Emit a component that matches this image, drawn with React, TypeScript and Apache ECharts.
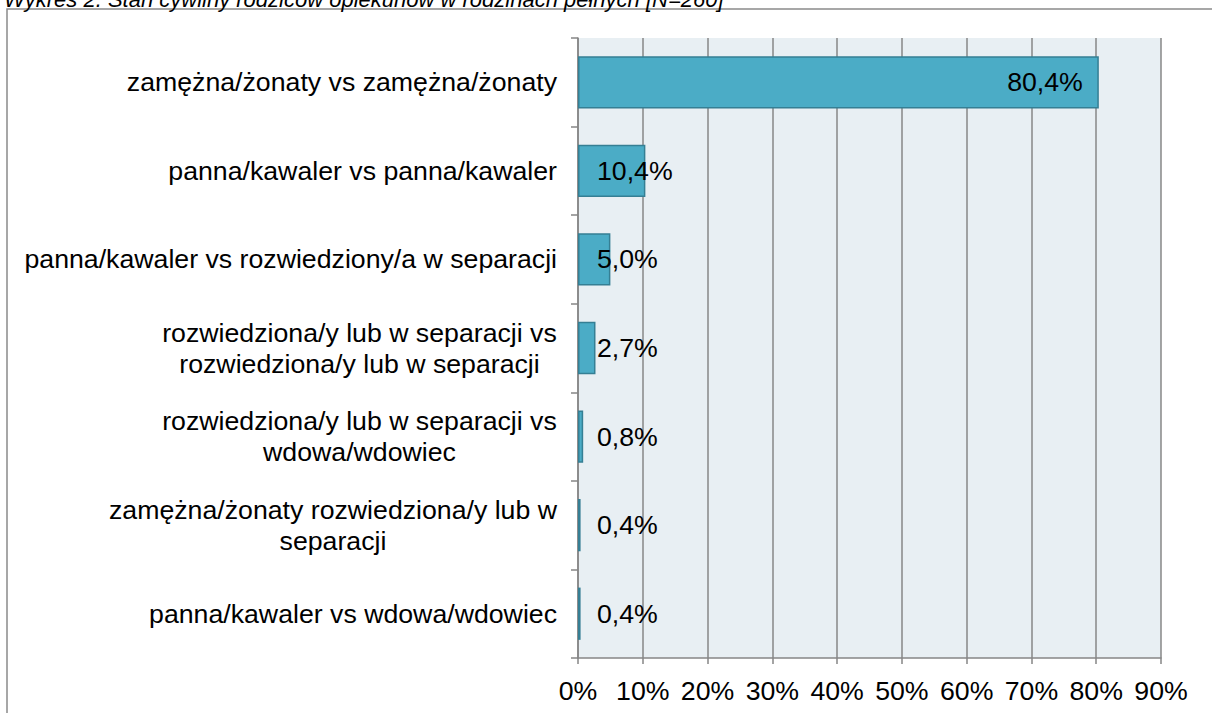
import React, { useEffect, useRef } from "react";
import * as echarts from "echarts";

const categories = [
  "zamężna/żonaty vs zamężna/żonaty",
  "panna/kawaler vs panna/kawaler",
  "panna/kawaler vs rozwiedziony/a w separacji",
  "rozwiedziona/y lub w separacji vs\nrozwiedziona/y lub w separacji",
  "rozwiedziona/y lub w separacji vs\nwdowa/wdowiec",
  "zamężna/żonaty rozwiedziona/y lub w\nseparacji",
  "panna/kawaler vs wdowa/wdowiec",
];
const values = [80.4, 10.4, 5.0, 2.7, 0.8, 0.4, 0.4];
const xMin = 0;
const xMax = 90;
const xInterval = 10;
const titleText = "Wykres 2. Stan cywilny rodziców opiekunów w rodzinach pełnych [N=260]";

const FONT = "'Liberation Sans', Arial, sans-serif";
const FS = 26.7;
const LH = 31;

function measure(text: string): number {
  const c = document.createElement("canvas").getContext("2d");
  if (!c) return text.length * FS * 0.5;
  c.font = `${FS}px 'Liberation Sans'`;
  return c.measureText(text).width;
}

export default function App() {
  const ref = useRef<HTMLDivElement>(null);
  useEffect(() => {
    document.body.style.margin = "0";
    if (!ref.current) return;
    const chart = echarts.init(ref.current, undefined, { renderer: "svg" });
    const rich: Record<string, any> = {};
    const labelMap: Record<string, string> = {};
    categories.forEach((cat, i) => {
      if (cat.includes("\n")) {
        const lines = cat.split("\n");
        const w = Math.ceil(Math.max(...lines.map(measure)));
        const key = "c" + i;
        rich[key] = { width: w, align: "center", fontSize: FS, fontFamily: FONT, color: "#000", lineHeight: LH };
        labelMap[cat] = lines.map((l) => `{${key}|${l}}`).join("\n");
      }
    });
    chart.setOption({
      animation: false,
      backgroundColor: "#fff",
      graphic: [
        {
          type: "rect",
          shape: { x: 7, y: 9, width: 1400, height: 900 },
          style: { fill: "none", stroke: "#8a8a8a", lineWidth: 1.5 },
          silent: true,
        },
        {
          type: "text",
          x: 4,
          y: 10,
          style: {
            text: titleText,
            font: `italic 22px ${FONT}`,
            fill: "#000",
            verticalAlign: "bottom",
            align: "left",
          },
          silent: true,
        },
      ],
      grid: {
        left: 578,
        right: 51,
        top: 38,
        bottom: 55,
        show: true,
        backgroundColor: "#E8EFF3",
        borderWidth: 0,
      },
      xAxis: {
        type: "value",
        min: xMin,
        max: xMax,
        interval: xInterval,
        axisLine: { show: true, lineStyle: { color: "#868686", width: 1.5 } },
        axisTick: { show: true, length: 6, lineStyle: { color: "#868686", width: 1.5 } },
        splitLine: { show: true, lineStyle: { color: "#878787", width: 1.5 } },
        axisLabel: {
          formatter: "{value}%",
          fontSize: FS,
          fontFamily: FONT,
          color: "#000",
          margin: 19,
        },
      },
      yAxis: {
        type: "category",
        data: categories,
        inverse: true,
        axisLine: { show: true, lineStyle: { color: "#868686", width: 1.5 } },
        axisTick: { show: true, length: 7, interval: 0, lineStyle: { color: "#868686", width: 1.5 } },
        splitLine: { show: false },
        axisLabel: {
          interval: 0,
          fontSize: FS,
          fontFamily: FONT,
          color: "#000",
          margin: 21,
          align: "right",
          lineHeight: LH,
          formatter: (v: string) => labelMap[v] ?? v,
          rich,
        },
      },
      series: [
        {
          type: "bar",
          barWidth: "59%",
          data: values.map((v, i) => ({
            value: v,
            label:
              i === 0
                ? { position: "insideRight", distance: 16 }
                : { position: [19, "50%"], align: "left", verticalAlign: "middle" },
          })),
          itemStyle: { color: "#4BACC6", borderColor: "#357F94", borderWidth: 1.5 },
          label: {
            show: true,
            fontSize: FS,
            fontFamily: FONT,
            color: "#000",
            formatter: (p: any) => p.value.toFixed(1).replace(".", ",") + "%",
          },
        },
      ],
    });
    return () => chart.dispose();
  }, []);
  return (
    <div
      ref={ref}
      style={{ position: "fixed", left: 0, top: 0, width: 1212, height: 713 }}
    />
  );
}
